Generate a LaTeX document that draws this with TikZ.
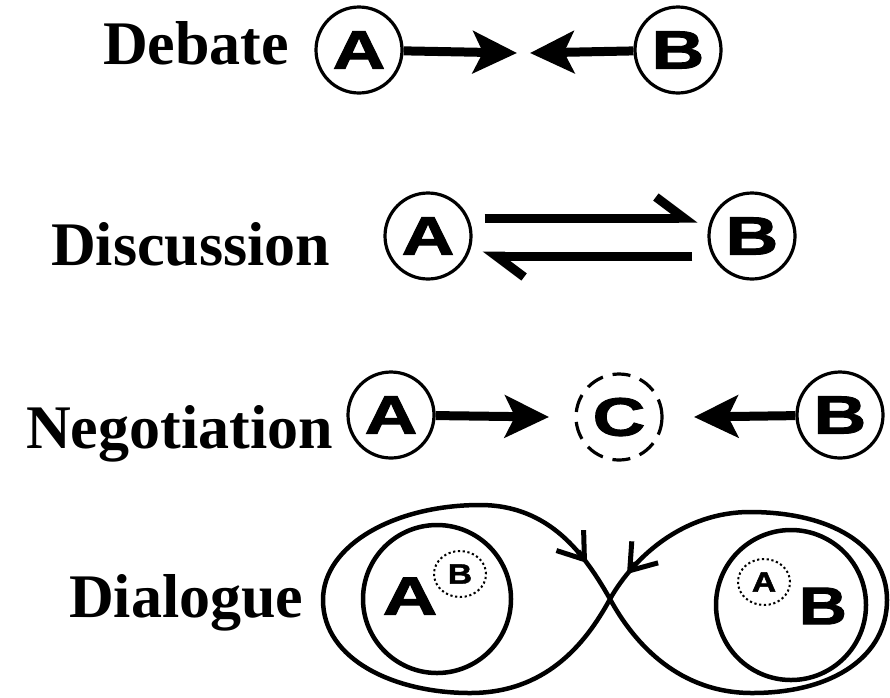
\documentclass[tikz,border=0pt]{standalone}
\usepackage{fontspec}
\usepackage{graphicx}
\setmainfont{Liberation Serif}
\newfontfamily\lettfont[FakeBold=1.6]{Liberation Sans}
\usetikzlibrary{arrows.meta,calc,shapes.geometric}
\newcommand{\LT}[3][1.35]{\scalebox{#1}[1]{\fontsize{#2}{#2}\selectfont\lettfont\bfseries #3}}
\begin{document}
\begin{tikzpicture}[x=1pt,y=-1pt,
  ring/.style={circle,draw,line width=3.2pt,minimum size=86pt,inner sep=0pt},
  dring/.style={ring,dash pattern=on 18pt off 10pt},
  lbl/.style={anchor=base west,inner sep=0pt,font=\fontsize{62}{62}\selectfont\bfseries},
  fat/.style={line width=9pt,-{Stealth[length=44pt,width=42pt,inset=10pt]}},
  harp/.style={line width=9pt,-{Straight Barb[harpoon,length=28pt,width=42pt]}},
  bigring/.style={circle,draw,line width=4.5pt,inner sep=0pt},
  dotring/.style={ellipse,draw,line width=2pt,dash pattern=on 2.2pt off 2.6pt,minimum width=52pt,minimum height=46pt,inner sep=0pt},
  loopline/.style={line width=4.5pt},
  looparrow/.style={line width=5pt,-{Straight Barb[length=24pt,width=34pt]}}
]
\useasboundingbox (0,0) rectangle (890,697);

% Debate
\node[lbl] (t1) at (103,64) {Debate};
\node[ring] (a1) at (359,50) {\LT{54}{A}};
\node[ring] (b1) at (678,50) {\LT{54}{B}};
\coordinate (p1) at (517,53);
\coordinate (q1) at (530,53);
\draw[fat] (a1) -- (p1);
\draw[fat] (b1) -- (q1);

% Discussion
\node[lbl] (t2) at (51,265) {Discussion};
\node[ring] (a2) at (428,236) {\LT{54}{A}};
\node[ring] (b2) at (752,236) {\LT{54}{B}};
\draw[harp,shorten <=12pt,shorten >=10pt] ([yshift=18pt]a2.east) -- ([yshift=18pt]b2.west);
\draw[harp,shorten <=15pt,shorten >=10pt] ([yshift=-20pt]b2.west) -- ([yshift=-20pt]a2.east);

% Negotiation
\node[lbl] (t3) at (26,448) {Negotiation};
\node[ring] (a3) at (391,415) {\LT{54}{A}};
\node[dring] (c3) at (619,417) {\LT{54}{C}};
\node[ring] (b3) at (840,415) {\LT{54}{B}};
\coordinate (p3) at (549,417);
\coordinate (q3) at (694,417);
\draw[fat] (a3) -- (p3);
\draw[fat] (b3) -- (q3);

% Dialogue
\node[lbl] (t4) at (69,617) {Dialogue};
\node[bigring,minimum size=148pt] (ia) at (437,599) {};
\node[bigring,minimum size=150pt] (ib) at (791,605) {};
\node[inner sep=0pt] (la) at (410,596) {\LT[1.4]{54}{A}};
\node[inner sep=0pt] (lb) at (823,606) {\LT[1.25]{53}{B}};
\node[dotring] (sb) at (460,574) {\LT[1.2]{28}{B}};
\node[dotring] (sa) at (764,582) {\LT[1.2]{28}{A}};
\coordinate (X) at (610,599);
\draw[loopline] (X) .. controls (635,645) and (680,693) .. (752,693)
  .. controls (835,693) and (887,655) .. (887,600)
  .. controls (887,545) and (830,512) .. (750,512)
  .. controls (685,512) and (635,555) .. (X)
  .. controls (585,645) and (545,693) .. (470,693)
  .. controls (395,693) and (323,660) .. (323,600)
  .. controls (323,545) and (395,505) .. (480,505)
  .. controls (550,505) and (585,555) .. (X);
\coordinate (la1) at (578,551);
\coordinate (la2) at (587,563);
\coordinate (ra1) at (636,563);
\coordinate (ra2) at (627,574);
\draw[looparrow] (la1) -- (la2);
\draw[looparrow] (ra1) -- (ra2);
\end{tikzpicture}
\end{document}
